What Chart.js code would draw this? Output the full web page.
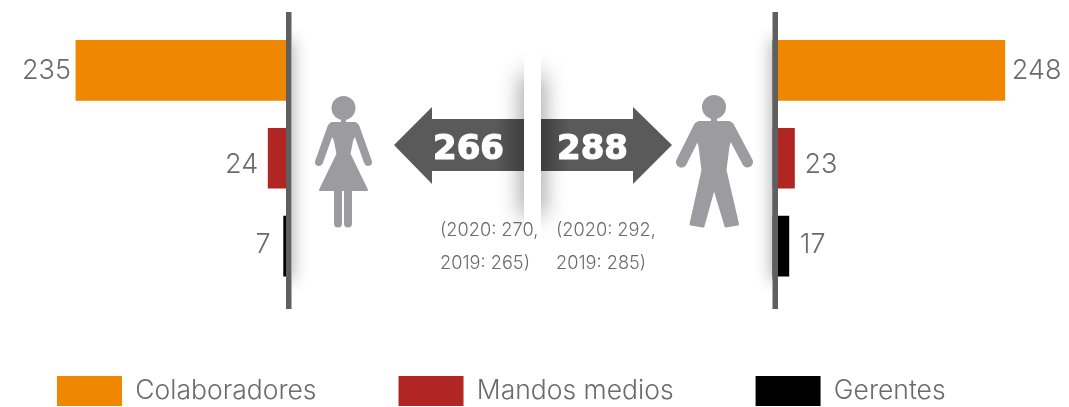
<!DOCTYPE html>
<html><head><meta charset="utf-8">
<style>html,body{margin:0;padding:0;background:#fff}canvas{display:block}</style>
<script src="https://cdn.jsdelivr.net/npm/chart.js@4"></script>
</head><body><canvas id="c" width="1069" height="407"></canvas>
<script>
const categories = ['Colaboradores', 'Mandos medios', 'Gerentes'];
const mujeres = [235, 24, 7];
const hombres = [248, 23, 17];
const colors = ['#ef8700', '#b12622', '#000000'];
const totalMujeres = '266';
const totalHombres = '288';
const notaMujeres = ['(2020: 270,', '2019: 265)'];
const notaHombres = ['(2020: 292,', '2019: 285)'];

const GREY = '#9b9ba0', LINE = '#5f5f5f', TXT = '#6b6b6b';
const VALUE_FONT = '300 27px Inter';

function softShadow(ctx, clip, rect, blur, color) {
  ctx.save();
  ctx.beginPath(); ctx.rect(clip[0], clip[1], clip[2], clip[3]); ctx.clip();
  ctx.shadowColor = color; ctx.shadowBlur = blur;
  ctx.fillStyle = color;
  ctx.fillRect(rect[0], rect[1], rect[2], rect[3]);
  ctx.restore();
}
function poly(ctx, pts) {
  ctx.beginPath();
  pts.forEach((p, i) => i ? ctx.lineTo(p[0], p[1]) : ctx.moveTo(p[0], p[1]));
  ctx.closePath(); ctx.fill();
}
function limb(ctx, a, b, w) {
  ctx.lineWidth = w; ctx.lineCap = 'round';
  ctx.beginPath(); ctx.moveTo(a[0], a[1]); ctx.lineTo(b[0], b[1]); ctx.stroke();
}
function woman(ctx) {
  ctx.fillStyle = GREY; ctx.strokeStyle = GREY; ctx.lineJoin = 'round';
  ctx.beginPath(); ctx.arc(343.5, 108, 12, 0, 7); ctx.fill();
  ctx.fillRect(341, 116, 5, 8);
  poly(ctx, [[331,122],[356,122],[359,128],[353,141],[350,157],[337,157],[334,141],[328,128]]);
  limb(ctx, [331.5,127], [319,162], 8);
  limb(ctx, [355.5,127], [368,162], 8);
  ctx.lineWidth = 2;
  poly(ctx, [[337,155],[350,155],[367,190],[320,190]]);
  ctx.stroke();
  limb(ctx, [338,188], [338,223.5], 8);
  limb(ctx, [348,188], [348,223.5], 8);
}
function man(ctx) {
  ctx.fillStyle = GREY; ctx.strokeStyle = GREY; ctx.lineJoin = 'round';
  ctx.beginPath(); ctx.arc(714, 107, 12, 0, 7); ctx.fill();
  ctx.fillRect(711, 115, 6, 9);
  limb(ctx, [699,127], [681.5,162], 11);
  limb(ctx, [729,127], [747.5,162], 11);
  ctx.lineWidth = 3;
  poly(ctx, [[699,122.5],[729,122.5],[733,130],[728,146],[725,170],[737.5,224],[726,226],[714,186],[703,226],[691,224],[703,170],[700,146],[695,130]]);
  ctx.stroke();
}
function arrow(ctx, pts, x0, x1, dark0) {
  const g = ctx.createLinearGradient(x0, 0, x1, 0);
  g.addColorStop(0, dark0 ? '#3e3e3e' : '#5a5a5a');
  g.addColorStop(0.22, '#5a5a5a');
  g.addColorStop(0.78, '#5a5a5a');
  g.addColorStop(1, dark0 ? '#5a5a5a' : '#3e3e3e');
  ctx.fillStyle = g; poly(ctx, pts);
}

const decor = {
  id: 'decor',
  afterLayout(chart) {
    const lg = chart.legend, p = lg.options.labels.padding;
    lg.left = 57 - p; lg.top = 376 - p;
  },
  afterDatasetsDraw(chart) {
    const ctx = chart.ctx;
    ctx.save();
    softShadow(ctx, [292,12,30,297], [280,40,12,240], 16, 'rgba(60,60,60,.7)');
    softShadow(ctx, [745,12,27.5,297], [772,40,12,240], 16, 'rgba(60,60,60,.7)');
    ctx.fillStyle = LINE;
    ctx.fillRect(286, 12, 5.5, 297);
    ctx.fillRect(772.5, 12, 5.5, 297);
    softShadow(ctx, [480,30,44,230], [524,75,12,140], 22, 'rgba(50,50,50,.85)');
    softShadow(ctx, [541,30,44,230], [529,75,12,140], 22, 'rgba(50,50,50,.85)');
    arrow(ctx, [[394,145],[432,107],[432,119],[524,119],[524,171],[432,171],[432,184]], 394, 524, false);
    arrow(ctx, [[672,145],[633,107],[633,119],[541,119],[541,171],[633,171],[633,184]], 541, 672, true);
    ctx.fillStyle = '#fff'; ctx.strokeStyle = '#fff'; ctx.lineWidth = 1.2; ctx.lineJoin = 'round';
    ctx.font = 'bold 34px "DejaVu Sans"';
    ctx.textBaseline = 'alphabetic'; ctx.textAlign = 'left';
    ctx.fillText(totalMujeres, 433, 159); ctx.strokeText(totalMujeres, 433, 159);
    ctx.fillText(totalHombres, 557, 159); ctx.strokeText(totalHombres, 557, 159);
    ctx.fillStyle = TXT;
    ctx.font = '300 18.2px Inter';
    ctx.fillText(notaMujeres[0], 440, 236);
    ctx.fillText(notaMujeres[1], 440, 269);
    ctx.fillText(notaHombres[0], 556, 236);
    ctx.fillText(notaHombres[1], 556, 269);
    woman(ctx); man(ctx);
    ctx.fillStyle = TXT; ctx.font = VALUE_FONT; ctx.textBaseline = 'middle';
    const gapsL = [5, 10, 13], gapsR = [7, 10, 11], dy = [0, 7, -1];
    chart.getDatasetMeta(0).data.forEach((b, i) => {
      ctx.textAlign = 'right';
      ctx.fillText(mujeres[i], b.x - gapsL[i], b.y + dy[i]);
    });
    chart.getDatasetMeta(1).data.forEach((b, i) => {
      ctx.textAlign = 'left';
      ctx.fillText(hombres[i], b.x + gapsR[i], b.y + dy[i]);
    });
    ctx.restore();
  }
};

new Chart(document.getElementById('c'), {
  type: 'bar',
  data: {
    labels: categories,
    datasets: [
      { label: 'Mujeres', data: mujeres, xAxisID: 'xL', backgroundColor: colors, barThickness: 60, grouped: false },
      { label: 'Hombres', data: hombres, xAxisID: 'xR', backgroundColor: colors, barThickness: 60, grouped: false }
    ]
  },
  options: {
    indexAxis: 'y',
    responsive: false,
    animation: false,
    layout: { padding: { top: 26.5, bottom: -5, left: 0, right: 0 } },
    scales: {
      xL: { type: 'linear', axis: 'x', display: false, reverse: true, min: -855, max: 318.3, grid: { display: false } },
      xR: { type: 'linear', axis: 'x', display: false, min: -826.7, max: 316.6, grid: { display: false } },
      y: { display: false, grid: { display: false } }
    },
    plugins: {
      title: { display: false },
      tooltip: { enabled: false },
      legend: {
        position: 'bottom',
        align: 'start',
        labels: {
          boxWidth: 65, boxHeight: 30, padding: 82, color: TXT,
          font: { family: 'Inter', size: 26.5, weight: '300' },
          generateLabels: () => categories.map((t, i) => ({
            text: t, fillStyle: colors[i], strokeStyle: colors[i], lineWidth: 0, fontColor: TXT, hidden: false, index: i
          }))
        }
      }
    }
  },
  plugins: [decor]
});
</script></body></html>
